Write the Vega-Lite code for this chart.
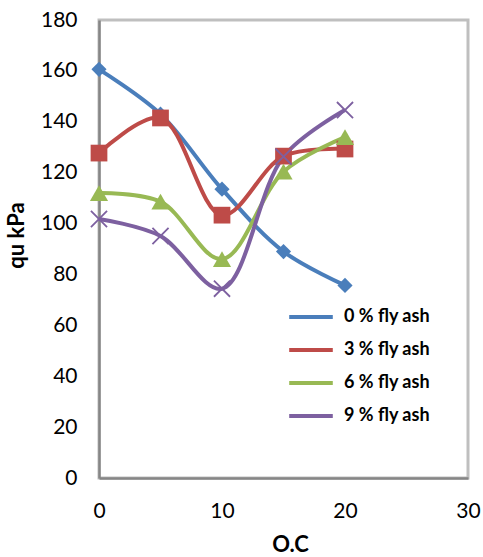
{
  "$schema": "https://vega.github.io/schema/vega-lite/v6.json",
  "width": 369,
  "height": 458,
  "autosize": "none",
  "padding": {"left": 99, "top": 20, "right": 15, "bottom": 79},
  "background": "white",
  "config": {
    "font": "Lato",
    "view": {"stroke": "#BFBFBF", "strokeWidth": 3},
    "axis": {"grid": false, "ticks": false, "domainColor": "#868686", "domainWidth": 2.5, "labelFont": "Lato", "labelFontSize": 21, "labelColor": "#000", "titleFont": "Lato", "titleFontSize": 22, "titleFontWeight": "bold", "titleColor": "#000"}
  },
  "data": {
    "values": [
      {"oc": 0, "qu": 160.6, "series": "0 % fly ash"},
      {"oc": 5, "qu": 143, "series": "0 % fly ash"},
      {"oc": 10, "qu": 113.5, "series": "0 % fly ash"},
      {"oc": 15, "qu": 89, "series": "0 % fly ash"},
      {"oc": 20, "qu": 75.7, "series": "0 % fly ash"},
      {"oc": 0, "qu": 127.7, "series": "3 % fly ash"},
      {"oc": 5, "qu": 141.5, "series": "3 % fly ash"},
      {"oc": 10, "qu": 103.3, "series": "3 % fly ash"},
      {"oc": 15, "qu": 126.5, "series": "3 % fly ash"},
      {"oc": 20, "qu": 129.3, "series": "3 % fly ash"},
      {"oc": 0, "qu": 112, "series": "6 % fly ash"},
      {"oc": 5, "qu": 108.6, "series": "6 % fly ash"},
      {"oc": 10, "qu": 86, "series": "6 % fly ash"},
      {"oc": 15, "qu": 120.4, "series": "6 % fly ash"},
      {"oc": 20, "qu": 134, "series": "6 % fly ash"},
      {"oc": 0, "qu": 101.8, "series": "9 % fly ash"},
      {"oc": 5, "qu": 95.1, "series": "9 % fly ash"},
      {"oc": 10, "qu": 74.4, "series": "9 % fly ash"},
      {"oc": 15, "qu": 126.3, "series": "9 % fly ash"},
      {"oc": 20, "qu": 144.6, "series": "9 % fly ash"}
    ]
  },
  "encoding": {
    "x": {"field": "oc", "type": "quantitative", "scale": {"domain": [0, 30], "nice": false},
      "axis": {"values": [0, 10, 20, 30], "title": "O.C", "labelFlush": false, "labelPadding": 22, "titlePadding": 13, "titleX": 191}},
    "y": {"field": "qu", "type": "quantitative", "scale": {"domain": [0, 180], "nice": false},
      "axis": {"values": [0, 20, 40, 60, 80, 100, 120, 140, 160, 180], "title": "qu kPa", "labelFlush": false, "labelPadding": 22, "titlePadding": 12, "titleY": 215}},
    "color": {"field": "series", "type": "nominal",
      "scale": {"domain": ["0 % fly ash", "3 % fly ash", "6 % fly ash", "9 % fly ash"], "range": ["#4A7EBB", "#BE4B48", "#98B954", "#7D60A0"]},
      "legend": {"orient": "none", "legendX": 188, "legendY": 273, "title": null, "symbolType": "stroke", "symbolStrokeWidth": 4, "symbolSize": 1900, "labelFontSize": 18, "labelFontWeight": "bold", "labelColor": "#000", "rowPadding": 0, "labelOffset": 9}}
  },
  "layer": [
    {"mark": {"type": "line", "interpolate": "catmull-rom", "strokeWidth": 4}},
    {"transform": [{"filter": "datum.series != '9 % fly ash'"}],
     "mark": {"type": "point", "filled": true, "opacity": 1},
     "encoding": {
       "shape": {"field": "series", "type": "nominal", "legend": null,
         "scale": {"domain": ["0 % fly ash", "3 % fly ash", "6 % fly ash"], "range": ["diamond", "square", "triangle-up"]}},
       "size": {"field": "series", "type": "nominal", "legend": null,
         "scale": {"domain": ["0 % fly ash", "3 % fly ash", "6 % fly ash"], "range": [230, 330, 300]}}
     }},
    {"transform": [{"filter": "datum.series == '9 % fly ash'"}],
     "mark": {"type": "point", "filled": false, "opacity": 1, "strokeWidth": 1.8, "shape": "M-1,-1L1,1M-1,1L1,-1", "size": 260}}
  ]
}
